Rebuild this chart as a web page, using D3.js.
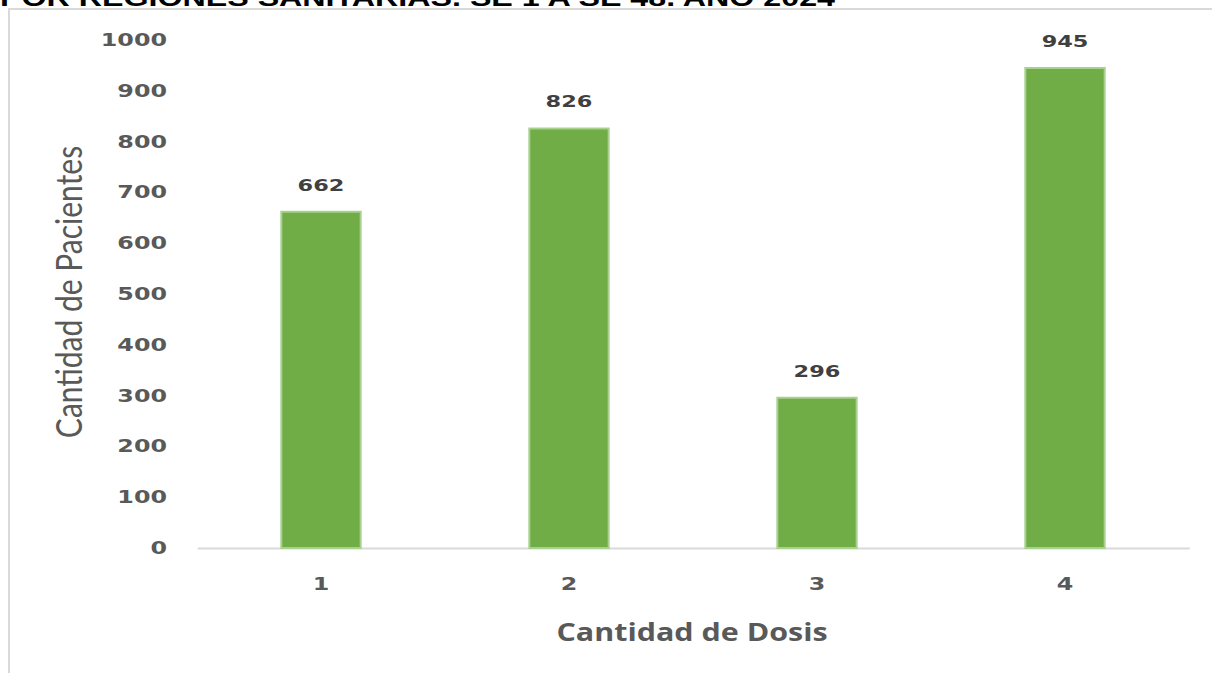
<!DOCTYPE html>
<html>
<head>
<meta charset="utf-8">
<script src="https://cdn.jsdelivr.net/npm/d3@7"></script>
<style>
  html, body { margin: 0; padding: 0; background: #fff; overflow: hidden; }
</style>
</head>
<body>
<svg width="1212" height="673"></svg>
<script>
// data
const dosis = ["1", "2", "3", "4"];
const pacientes = [662, 826, 296, 945];
const yTicks = [0, 100, 200, 300, 400, 500, 600, 700, 800, 900, 1000];
const titulo = "POR REGIONES SANITARIAS. SE 1 A SE 48. AÑO 2024";

// the picture is stretched sideways, so draw in a narrower box and stretch it
const sx = 1.4;
const W = 1212 / sx, H = 673;

const svg = d3.select("svg")
    .attr("viewBox", [0, 0, W, H])
    .attr("preserveAspectRatio", "none");

// cut-off title at the very top
svg.append("text")
    .attr("x", 0)
    .attr("y", 6)
    .attr("font-family", "Liberation Sans, Arial, sans-serif")
    .attr("font-weight", "bold")
    .attr("font-size", 24)
    .attr("fill", "#000")
    .attr("textLength", 835 / sx)
    .attr("lengthAdjust", "spacingAndGlyphs")
    .text(titulo);

// frame of the chart area
svg.append("path")
    .attr("d", `M${9 / sx},${H} V9 H${W}`)
    .attr("fill", "none")
    .attr("stroke", "#d9d9d9")
    .attr("stroke-width", 2)
    .attr("vector-effect", "non-scaling-stroke");

const x = d3.scaleBand()
    .domain(dosis)
    .range([197 / sx, 1189 / sx])
    .paddingInner(0.68)
    .paddingOuter(0.34);

const y = d3.scaleLinear()
    .domain([0, 1000])
    .range([548, 40]);

const numFont = "DejaVu Sans, Verdana, sans-serif";

// y axis labels, no line
const yAxis = svg.append("g")
    .attr("transform", `translate(${167 / sx},0)`)
    .call(d3.axisLeft(y).tickValues(yTicks).tickFormat(d3.format("d")).tickSize(0).tickPadding(0));
yAxis.select(".domain").remove();
yAxis.selectAll("text")
    .attr("font-family", numFont)
    .attr("font-weight", "bold")
    .attr("font-size", 17)
    .attr("fill", "#595959");

// x axis
const xAxis = svg.append("g")
    .attr("transform", `translate(0,${y(0)})`)
    .call(d3.axisBottom(x).tickSize(0).tickPadding(30));
xAxis.select(".domain")
    .attr("stroke", "#d9d9d9")
    .attr("stroke-width", 2)
    .attr("vector-effect", "non-scaling-stroke");
xAxis.selectAll("text")
    .attr("font-family", numFont)
    .attr("font-weight", "bold")
    .attr("font-size", 17)
    .attr("fill", "#595959");

// bars
svg.append("g")
  .selectAll("rect")
  .data(pacientes)
  .join("rect")
    .attr("x", (d, i) => x(dosis[i]))
    .attr("y", d => y(d))
    .attr("width", x.bandwidth())
    .attr("height", d => y(0) - y(d))
    .attr("fill", "#70ad47")
    .attr("stroke", "#a9d18e")
    .attr("stroke-width", 2)
    .attr("vector-effect", "non-scaling-stroke");

// value labels
svg.append("g")
  .selectAll("text")
  .data(pacientes)
  .join("text")
    .attr("x", (d, i) => x(dosis[i]) + x.bandwidth() / 2)
    .attr("y", d => y(d) - 21)
    .attr("text-anchor", "middle")
    .attr("font-family", numFont)
    .attr("font-weight", "bold")
    .attr("font-size", 16)
    .attr("fill", "#404040")
    .text(d => d);

// axis titles
svg.append("text")
    .attr("transform", `translate(${692 / sx},641) scale(0.87,1)`)
    .attr("text-anchor", "middle")
    .attr("font-family", "Open Sans, sans-serif")
    .attr("font-weight", "bold")
    .attr("font-size", 25)
    .attr("fill", "#595959")
    .text("Cantidad de Dosis");

svg.append("text")
    .attr("transform", `translate(${82 / sx},${292}) scale(0.85,1) rotate(-90)`)
    .attr("text-anchor", "middle")
    .attr("font-family", "Liberation Sans Narrow, Lato, sans-serif")
    .attr("font-size", 30)
    .attr("fill", "#595959")
    .text("Cantidad de Pacientes");
</script>
</body>
</html>
